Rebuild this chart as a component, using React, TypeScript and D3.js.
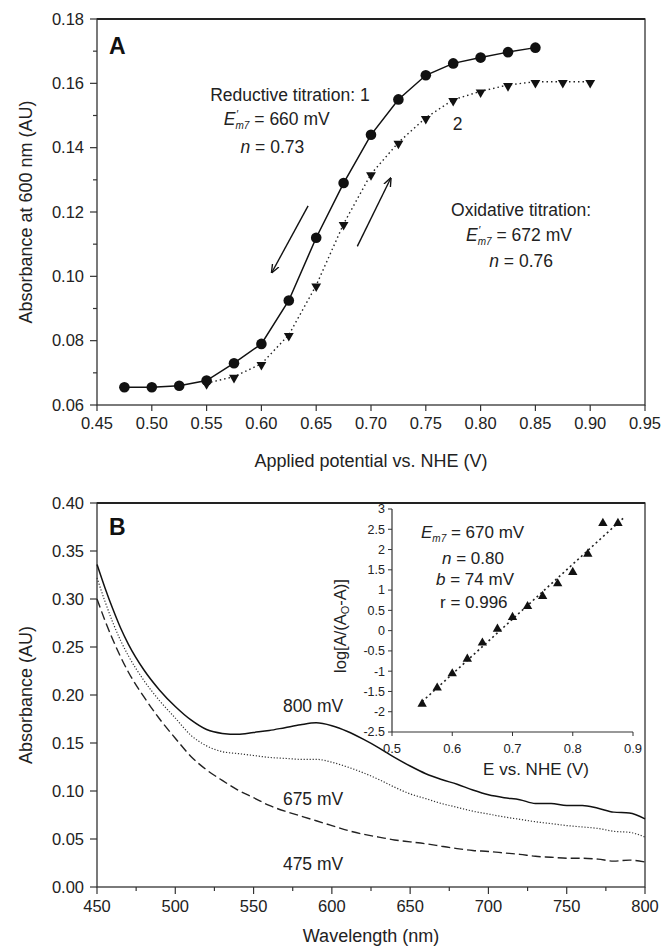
import React from "react";
import * as d3 from "d3";

// ---------- Panel A data ----------
const redE = [0.475, 0.5, 0.525, 0.55, 0.575, 0.6, 0.625, 0.65, 0.675, 0.7, 0.725, 0.75, 0.775, 0.8, 0.825, 0.85];
const redA = [0.0655, 0.0655, 0.066, 0.0676, 0.073, 0.079, 0.0925, 0.112, 0.129, 0.144, 0.155, 0.1625, 0.1662, 0.168, 0.1697, 0.1711];
const oxE = [0.55, 0.575, 0.6, 0.625, 0.65, 0.675, 0.7, 0.725, 0.75, 0.775, 0.8, 0.825, 0.85, 0.875, 0.9];
const oxA = [0.0668, 0.0688, 0.0728, 0.0818, 0.0972, 0.1163, 0.1318, 0.1416, 0.1493, 0.1549, 0.1575, 0.1595, 0.1605, 0.1605, 0.1605];
const xTicksA = [0.45, 0.5, 0.55, 0.6, 0.65, 0.7, 0.75, 0.8, 0.85, 0.9, 0.95];
const yTicksA = [0.06, 0.08, 0.1, 0.12, 0.14, 0.16, 0.18];
const yMinorA = [0.07, 0.09, 0.11, 0.13, 0.15, 0.17];

// ---------- Panel B data ----------
const wl = [450, 455, 460, 465, 470, 480, 490, 500, 510, 520, 530, 540, 550, 560, 570, 580, 590, 600, 610, 620, 630, 640, 650, 660, 670, 680, 690, 700, 710, 720, 730, 740, 750, 760, 770, 780, 790, 800];
const abs800 = [0.336, 0.312, 0.29, 0.27, 0.253, 0.226, 0.205, 0.188, 0.174, 0.164, 0.16, 0.159, 0.161, 0.163, 0.166, 0.169, 0.171, 0.168, 0.162, 0.154, 0.145, 0.135, 0.126, 0.118, 0.112, 0.107, 0.101, 0.096, 0.093, 0.091, 0.087, 0.087, 0.085, 0.085, 0.082, 0.078, 0.077, 0.071];
const abs675 = [0.322, 0.298, 0.276, 0.257, 0.241, 0.215, 0.194, 0.176, 0.158, 0.147, 0.141, 0.139, 0.137, 0.135, 0.134, 0.133, 0.133, 0.13, 0.125, 0.119, 0.112, 0.104, 0.097, 0.092, 0.087, 0.083, 0.079, 0.076, 0.073, 0.0705, 0.068, 0.066, 0.064, 0.0625, 0.061, 0.058, 0.057, 0.052];
const abs475 = [0.3, 0.278, 0.258, 0.24, 0.224, 0.198, 0.175, 0.155, 0.136, 0.122, 0.111, 0.101, 0.093, 0.085, 0.079, 0.074, 0.069, 0.064, 0.059, 0.055, 0.052, 0.049, 0.047, 0.045, 0.0425, 0.04, 0.038, 0.037, 0.0355, 0.034, 0.032, 0.031, 0.03, 0.03, 0.029, 0.027, 0.028, 0.026];
const xTicksB = [450, 500, 550, 600, 650, 700, 750, 800];
const xMinorB = [475, 525, 575, 625, 675, 725, 775];
const yTicksB = [0, 0.05, 0.1, 0.15, 0.2, 0.25, 0.3, 0.35, 0.4];

// ---------- Inset data ----------
const insE = [0.55, 0.575, 0.6, 0.625, 0.65, 0.675, 0.7, 0.725, 0.75, 0.775, 0.8, 0.825, 0.85, 0.875];
const insLog = [-1.81, -1.41, -1.06, -0.7, -0.3, 0.04, 0.33, 0.6, 0.85, 1.16, 1.44, 1.89, 2.65, 2.65];
const xTicksI = [0.5, 0.6, 0.7, 0.8, 0.9];
const yTicksI = [-2.5, -2, -1.5, -1, -0.5, 0, 0.5, 1, 1.5, 2, 2.5, 3];

const FONT = "'Liberation Sans', Arial, Helvetica, sans-serif";
const AX = "#333";

function EPrime({ value }: { value: string }) {
  return (
    <>
      <tspan fontStyle="italic">E</tspan>
      <tspan fontSize={11} dy={-7} dx={1}>′</tspan>
      <tspan fontSize={10} fontStyle="italic" dy={11} dx={-3}>m7</tspan>
      <tspan dy={-4}>{" = " + value}</tspan>
    </>
  );
}

export default function App() {
  const xA = d3.scaleLinear().domain([0.45, 0.95]).range([97, 645]);
  const yA = d3.scaleLinear().domain([0.06, 0.18]).range([405, 19]);
  const xB = d3.scaleLinear().domain([450, 800]).range([97, 645]);
  const yB = d3.scaleLinear().domain([0, 0.4]).range([887, 503]);
  const xI = d3.scaleLinear().domain([0.5, 0.9]).range([392, 633]);
  const yI = d3.scaleLinear().domain([-2.5, 3]).range([732, 509]);

  const redPts = redE.map((e, i) => [e, redA[i]] as [number, number]);
  const oxPts = oxE.map((e, i) => [e, oxA[i]] as [number, number]);
  const lineA = d3.line<[number, number]>().x((d) => xA(d[0])).y((d) => yA(d[1]));

  const lineB = (vals: number[]) =>
    d3
      .line<number>()
      .x((_, i) => xB(wl[i]))
      .y((d) => yB(d))
      .curve(d3.curveMonotoneX)(vals) as string;

  // linear regression for inset fit line
  const meanX = d3.mean(insE) as number;
  const meanY = d3.mean(insLog) as number;
  const slope =
    (d3.sum(insE.map((x, i) => (x - meanX) * (insLog[i] - meanY))) as number) /
    (d3.sum(insE.map((x) => (x - meanX) ** 2)) as number);
  const icpt = meanY - slope * meanX;
  const fitX = [0.55, 0.885];

  const tri = d3.symbol().type(d3.symbolTriangle).size(42)() as string;
  const triSmall = d3.symbol().type(d3.symbolTriangle).size(38)() as string;

  const fmt2 = d3.format(".2f");

  return (
    <svg width={662} height={948} style={{ display: "block", position: "absolute", left: 0, top: 0, background: "#fff" }} fontFamily={FONT}>
      {/* ===== Panel A ===== */}
      <rect x={xA(0.45)} y={yA(0.18)} width={xA(0.95) - xA(0.45)} height={yA(0.06) - yA(0.18)} fill="none" stroke={AX} strokeWidth={1.3} />
      <line x1={xA(0.45)} x2={xA(0.95)} y1={yA(0.18)} y2={yA(0.18)} stroke="#222" strokeWidth={2} />
      {yTicksA.map((t) => (
        <g key={"ya" + t}>
          <line x1={xA(0.45) - 7} x2={xA(0.45)} y1={yA(t)} y2={yA(t)} stroke={AX} strokeWidth={1.2} />
          <text x={xA(0.45) - 13} y={yA(t)} dy="0.35em" textAnchor="end" fontSize={16.5} fill="#222">
            {fmt2(t)}
          </text>
        </g>
      ))}
      {yMinorA.map((t) => (
        <line key={"yam" + t} x1={xA(0.45) - 4} x2={xA(0.45)} y1={yA(t)} y2={yA(t)} stroke={AX} strokeWidth={1.2} />
      ))}
      {xTicksA.map((t) => (
        <g key={"xa" + t}>
          <line x1={xA(t)} x2={xA(t)} y1={yA(0.06)} y2={yA(0.06) + 6} stroke={AX} strokeWidth={1.2} />
          <text x={xA(t)} y={yA(0.06) + 24} textAnchor="middle" fontSize={16.5} fill="#222">
            {fmt2(t)}
          </text>
        </g>
      ))}
      <text x={(xA(0.45) + xA(0.95)) / 2} y={467} textAnchor="middle" fontSize={18} fill="#222">
        Applied potential vs. NHE (V)
      </text>
      <text transform={`translate(32,${(yA(0.06) + yA(0.18)) / 2}) rotate(-90)`} textAnchor="middle" fontSize={18} fill="#222">
        Absorbance at 600 nm (AU)
      </text>
      <text x={109} y={46} dy="0.35em" fontSize={23} fontWeight="bold" fill="#111">
        A
      </text>

      <path d={lineA(oxPts) as string} fill="none" stroke="#222" strokeWidth={1.4} strokeDasharray="1.5,3" />
      <path d={lineA(redPts) as string} fill="none" stroke="#111" strokeWidth={1.5} />
      {oxPts.map((d, i) => (
        <path key={"ox" + i} d={tri} transform={`translate(${xA(d[0])},${yA(d[1]) + 1}) rotate(180)`} fill="#111" />
      ))}
      {redPts.map((d, i) => (
        <circle key={"rd" + i} cx={xA(d[0])} cy={yA(d[1])} r={5.3} fill="#111" />
      ))}

      {/* annotations A */}
      <text x={xA(0.626)} y={yA(0.1563)} dy="0.35em" textAnchor="middle" fontSize={17.5} fill="#222">
        Reductive titration:  1
      </text>
      <text x={xA(0.614)} y={yA(0.1489)} dy="0.35em" textAnchor="middle" fontSize={17.5} fill="#222">
        <EPrime value="660 mV" />
      </text>
      <text x={xA(0.61)} y={yA(0.1403)} dy="0.35em" textAnchor="middle" fontSize={17.5} fill="#222">
        <tspan fontStyle="italic">n</tspan> = 0.73
      </text>
      <text x={xA(0.779)} y={yA(0.1474)} dy="0.35em" textAnchor="middle" fontSize={17.5} fill="#222">
        2
      </text>
      <text x={xA(0.837)} y={yA(0.1208)} dy="0.35em" textAnchor="middle" fontSize={17.5} fill="#222">
        Oxidative titration:
      </text>
      <text x={xA(0.835)} y={yA(0.1129)} dy="0.35em" textAnchor="middle" fontSize={17.5} fill="#222">
        <EPrime value="672 mV" />
      </text>
      <text x={xA(0.837)} y={yA(0.1048)} dy="0.35em" textAnchor="middle" fontSize={17.5} fill="#222">
        <tspan fontStyle="italic">n</tspan> = 0.76
      </text>

      <defs>
        <marker id="arr" viewBox="0 0 10 10" refX="9" refY="5" markerWidth="9" markerHeight="9" orient="auto-start-reverse" markerUnits="userSpaceOnUse">
          <path d="M0,1 L10,5 L0,9" fill="none" stroke="#111" strokeWidth={1.5} />
        </marker>
      </defs>
      <line x1={xA(0.6426)} y1={yA(0.1219)} x2={xA(0.6095)} y2={yA(0.1012)} stroke="#111" strokeWidth={1.4} markerEnd="url(#arr)" />
      <line x1={xA(0.6875)} y1={yA(0.1093)} x2={xA(0.718)} y2={yA(0.1305)} stroke="#111" strokeWidth={1.4} markerEnd="url(#arr)" />

      {/* ===== Panel B ===== */}
      <rect x={xB(450)} y={yB(0.4)} width={xB(800) - xB(450)} height={yB(0) - yB(0.4)} fill="none" stroke={AX} strokeWidth={1.3} />
      <line x1={xB(450)} x2={xB(800)} y1={yB(0.4)} y2={yB(0.4)} stroke="#222" strokeWidth={2} />
      {yTicksB.map((t) => (
        <g key={"yb" + t}>
          <line x1={xB(450) - 7} x2={xB(450)} y1={yB(t)} y2={yB(t)} stroke={AX} strokeWidth={1.2} />
          <text x={xB(450) - 13} y={yB(t)} dy="0.35em" textAnchor="end" fontSize={16.5} fill="#222">
            {fmt2(t)}
          </text>
        </g>
      ))}
      {xTicksB.map((t) => (
        <g key={"xb" + t}>
          <line x1={xB(t)} x2={xB(t)} y1={yB(0)} y2={yB(0) + 7} stroke={AX} strokeWidth={1.2} />
          <text x={xB(t)} y={yB(0) + 25} textAnchor="middle" fontSize={16.5} fill="#222">
            {t}
          </text>
        </g>
      ))}
      {xMinorB.map((t) => (
        <line key={"xbm" + t} x1={xB(t)} x2={xB(t)} y1={yB(0)} y2={yB(0) + 4} stroke={AX} strokeWidth={1.2} />
      ))}
      <text x={(xB(450) + xB(800)) / 2} y={942} textAnchor="middle" fontSize={18} fill="#222">
        Wavelength (nm)
      </text>
      <text transform={`translate(32,${(yB(0) + yB(0.4)) / 2}) rotate(-90)`} textAnchor="middle" fontSize={18} fill="#222">
        Absorbance (AU)
      </text>
      <text x={109} y={527} dy="0.35em" fontSize={23} fontWeight="bold" fill="#111">
        B
      </text>

      <path d={lineB(abs475)} fill="none" stroke="#222" strokeWidth={1.4} strokeDasharray="9,4" />
      <path d={lineB(abs675)} fill="none" stroke="#333" strokeWidth={1.2} strokeDasharray="1.2,1.8" />
      <path d={lineB(abs800)} fill="none" stroke="#111" strokeWidth={1.5} />

      <text x={xB(588)} y={yB(0.1886)} dy="0.35em" textAnchor="middle" fontSize={17.5} fill="#222">800 mV</text>
      <text x={xB(588)} y={yB(0.092)} dy="0.35em" textAnchor="middle" fontSize={17.5} fill="#222">675 mV</text>
      <text x={xB(588)} y={yB(0.024)} dy="0.35em" textAnchor="middle" fontSize={17.5} fill="#222">475 mV</text>

      {/* ===== Inset ===== */}
      <line x1={xI(0.5)} x2={xI(0.5)} y1={yI(3)} y2={yI(-2.5)} stroke={AX} strokeWidth={1.2} />
      <line x1={xI(0.5)} x2={xI(0.9)} y1={yI(-2.5)} y2={yI(-2.5)} stroke={AX} strokeWidth={1.2} />
      {yTicksI.map((t) => (
        <g key={"yi" + t}>
          <line x1={xI(0.5) - 4} x2={xI(0.5)} y1={yI(t)} y2={yI(t)} stroke={AX} strokeWidth={1} />
          <text x={xI(0.5) - 7} y={yI(t)} dy="0.35em" textAnchor="end" fontSize={12.5} fill="#222">
            {t}
          </text>
        </g>
      ))}
      {xTicksI.map((t) => (
        <g key={"xi" + t}>
          <line x1={xI(t)} x2={xI(t)} y1={yI(-2.5)} y2={yI(-2.5) + 4} stroke={AX} strokeWidth={1} />
          <text x={xI(t)} y={yI(-2.5) + 21} textAnchor="middle" fontSize={13} fill="#222">
            {t}
          </text>
        </g>
      ))}
      <text x={536} y={775} textAnchor="middle" fontSize={17} fill="#222">E vs. NHE (V)</text>
      <text transform={`translate(346,626) rotate(-90)`} textAnchor="middle" fontSize={16.5} fill="#222">
        log[A/(A<tspan fontSize={11} dy={3}>O</tspan><tspan dy={-3}>-A)]</tspan>
      </text>
      <path
        d={d3.line<number>().x((x) => xI(x)).y((x) => yI(slope * x + icpt))(fitX) as string}
        fill="none"
        stroke="#222"
        strokeWidth={1.6}
        strokeDasharray="2,3"
      />
      {insE.map((e, i) => (
        <path key={"ti" + i} d={triSmall} transform={`translate(${xI(e)},${yI(insLog[i])})`} fill="#111" />
      ))}
      <text x={421} y={532} dy="0.35em" fontSize={17} fill="#222">
        <tspan fontStyle="italic">E</tspan>
        <tspan fontSize={10} fontStyle="italic" dy={4}>m7</tspan>
        <tspan dy={-4}> = 670 mV</tspan>
      </text>
      <text x={442} y={558} dy="0.35em" fontSize={17} fill="#222">
        <tspan fontStyle="italic">n</tspan> = 0.80
      </text>
      <text x={436} y={579} dy="0.35em" fontSize={17} fill="#222">
        <tspan fontStyle="italic">b</tspan> = 74 mV
      </text>
      <text x={440} y={602} dy="0.35em" fontSize={17} fill="#222">
        r = 0.996
      </text>
    </svg>
  );
}
